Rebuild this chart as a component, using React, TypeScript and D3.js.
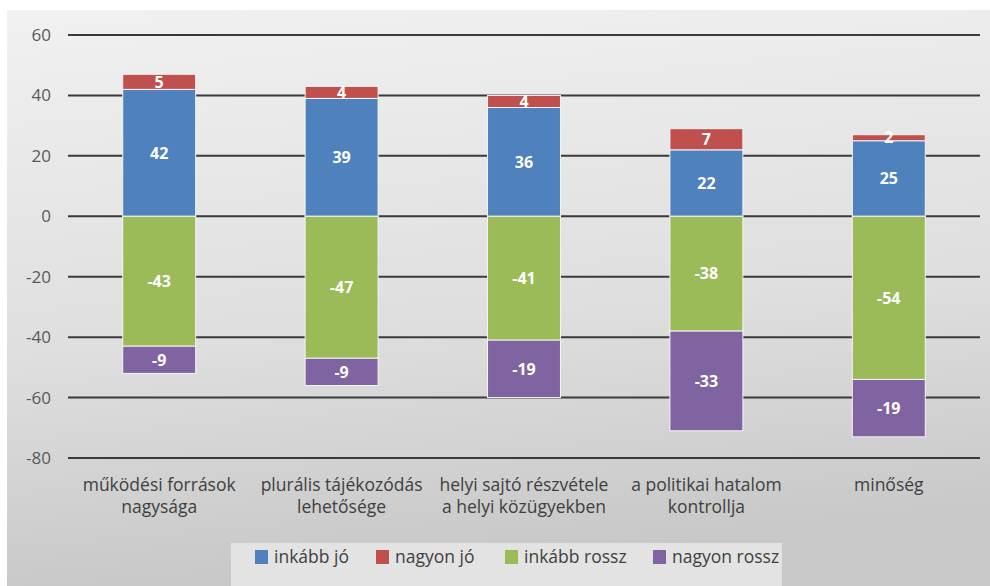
import * as d3 from "d3";
import { useEffect, useRef } from "react";

const categories = [
  ["működési források", "nagysága"],
  ["plurális tájékozódás", "lehetősége"],
  ["helyi sajtó részvétele", "a helyi közügyekben"],
  ["a politikai hatalom", "kontrollja"],
  ["minőség"],
];
const seriesNames = ["inkább jó", "nagyon jó", "inkább rossz", "nagyon rossz"];
const inkabbJo = [42, 39, 36, 22, 25];
const nagyonJo = [5, 4, 4, 7, 2];
const inkabbRossz = [-43, -47, -41, -38, -54];
const nagyonRossz = [-9, -9, -19, -33, -19];
const yTicks = [-80, -60, -40, -20, 0, 20, 40, 60];
const colors = ["#4f81bd", "#c0504d", "#9bbb59", "#8064a2"];

export default function App() {
  const ref = useRef<SVGSVGElement | null>(null);

  useEffect(() => {
    const width = 990;
    const height = 586;
    const svg = d3.select(ref.current).attr("width", width).attr("height", height);
    svg.selectAll("*").remove();

    const font = "'Open Sans', Lato, sans-serif";

    // background
    const defs = svg.append("defs");
    const grad = defs
      .append("linearGradient")
      .attr("id", "bg")
      .attr("x1", 0)
      .attr("y1", 0)
      .attr("x2", 0.15)
      .attr("y2", 1);
    grad.append("stop").attr("offset", "0%").attr("stop-color", "#f1f1f1");
    grad.append("stop").attr("offset", "60%").attr("stop-color", "#dedede");
    grad.append("stop").attr("offset", "100%").attr("stop-color", "#c8c8c8");

    svg.append("rect").attr("width", width).attr("height", height).attr("fill", "#ffffff");
    svg
      .append("rect")
      .attr("x", 7)
      .attr("y", 10)
      .attr("width", width - 7)
      .attr("height", height - 10)
      .attr("fill", "url(#bg)");

    const x = d3
      .scaleBand<number>()
      .domain(d3.range(categories.length))
      .range([68, 980])
      .paddingInner(0.6)
      .paddingOuter(0.3);

    const y = d3.scaleLinear().domain([-80, 60]).range([458, 35]);

    // gridlines
    svg
      .append("g")
      .selectAll("line")
      .data(yTicks)
      .join("line")
      .attr("x1", 68)
      .attr("x2", 980)
      .attr("y1", (d) => y(d))
      .attr("y2", (d) => y(d))
      .attr("stroke", "#3a3a3a")
      .attr("stroke-width", 2);

    svg
      .append("g")
      .selectAll("text")
      .data(yTicks)
      .join("text")
      .attr("x", 51)
      .attr("y", (d) => y(d))
      .attr("dy", "0.35em")
      .attr("text-anchor", "end")
      .attr("font-family", font)
      .attr("font-size", 17)
      .attr("fill", "#595959")
      .text((d) => d);

    // stacked segments
    const segs: { i: number; s: number; y0: number; y1: number; v: number }[] = [];
    categories.forEach((_, i) => {
      segs.push({ i, s: 0, y0: 0, y1: inkabbJo[i], v: inkabbJo[i] });
      segs.push({ i, s: 1, y0: inkabbJo[i], y1: inkabbJo[i] + nagyonJo[i], v: nagyonJo[i] });
      segs.push({ i, s: 2, y0: 0, y1: inkabbRossz[i], v: inkabbRossz[i] });
      segs.push({
        i,
        s: 3,
        y0: inkabbRossz[i],
        y1: inkabbRossz[i] + nagyonRossz[i],
        v: nagyonRossz[i],
      });
    });

    const bw = x.bandwidth();
    svg
      .append("g")
      .selectAll("rect")
      .data(segs)
      .join("rect")
      .attr("x", (d) => x(d.i)!)
      .attr("width", bw)
      .attr("y", (d) => y(Math.max(d.y0, d.y1)))
      .attr("height", (d) => Math.abs(y(d.y0) - y(d.y1)))
      .attr("fill", (d) => colors[d.s])
      .attr("stroke", "#f4f4f4")
      .attr("stroke-width", 1);

    svg
      .append("g")
      .selectAll("text")
      .data(segs)
      .join("text")
      .attr("x", (d) => x(d.i)! + bw / 2)
      .attr("y", (d) => y((d.y0 + d.y1) / 2))
      .attr("dy", "0.36em")
      .attr("text-anchor", "middle")
      .attr("font-family", font)
      .attr("font-weight", "bold")
      .attr("font-size", 16)
      .attr("fill", "#ffffff")
      .text((d) => d.v);

    // category labels
    const cat = svg
      .append("g")
      .selectAll("text")
      .data(categories)
      .join("text")
      .attr("x", (_, i) => x(i)! + bw / 2)
      .attr("y", 491)
      .attr("text-anchor", "middle")
      .attr("font-family", font)
      .attr("font-size", 17.5)
      .attr("fill", "#404040");
    cat
      .selectAll("tspan")
      .data((d) => d)
      .join("tspan")
      .attr("x", function () {
        return (this.parentNode as SVGTextElement).getAttribute("x");
      })
      .attr("dy", (_, j) => (j === 0 ? 0 : 22))
      .text((d) => d);

    // legend
    svg
      .append("rect")
      .attr("x", 231)
      .attr("y", 543)
      .attr("width", 551)
      .attr("height", 43)
      .attr("fill", "#e3e3e3");
    const legendX = [255, 376, 505, 653];
    const lg = svg
      .append("g")
      .selectAll("g")
      .data(seriesNames)
      .join("g")
      .attr("transform", (_, i) => `translate(${legendX[i]},550)`);
    lg.append("rect").attr("width", 13).attr("height", 14).attr("fill", (_, i) => colors[i]);
    lg.append("text")
      .attr("x", 19)
      .attr("y", 13)
      .attr("font-family", font)
      .attr("font-size", 17.5)
      .attr("fill", "#404040")
      .text((d) => d);
  }, []);

  return (
    <svg ref={ref} style={{ position: "fixed", left: 0, top: 0, display: "block" }} />
  );
}
